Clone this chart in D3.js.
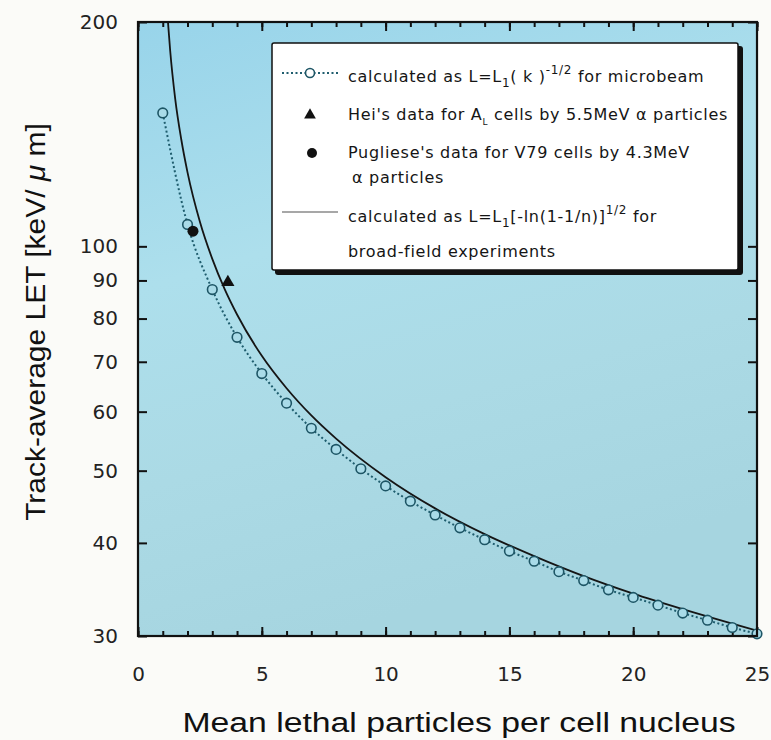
<!DOCTYPE html>
<html>
<head>
<meta charset="utf-8">
<script src="https://cdn.jsdelivr.net/npm/d3@7/dist/d3.min.js"></script>
<style>
  body { margin: 0; background: #fbfbf8; }
  svg { display: block; }
  .tick text { font-family: "DejaVu Sans", sans-serif; font-size: 20px; fill: #222; }
  .lg { font-family: "DejaVu Sans", sans-serif; font-size: 16px; letter-spacing: 0.7px; fill: #151515; }
</style>
</head>
<body>
<svg class="chart" width="771" height="740"></svg>
<script>
// microbeam: L = L1 (k)^-1/2
const microK = [1, 2, 3, 4, 5, 6, 7, 8, 9, 10, 11, 12, 13, 14, 15, 16, 17, 18, 19, 20, 21, 22, 23, 24, 25];
const microL = [151, 107, 87.5, 75.5, 67.5, 61.6, 57, 53.4, 50.3, 47.7, 45.5, 43.6, 41.9, 40.4, 39,
                37.8, 36.6, 35.6, 34.6, 33.8, 33, 32.2, 31.5, 30.8, 30.2];

// broad-field: solid curve, points read along it
const broadN = [1.2, 1.3, 1.5, 1.75, 2, 2.5, 3, 3.5, 4, 5, 6, 7, 8, 10, 12, 14, 16, 18, 20, 22, 25];
const broadL = [202, 183, 158, 139, 125.7, 107.9, 96.2, 87.6, 81, 71.3, 64.5, 59.3, 55.2, 49, 44.5,
                41.1, 38.4, 36.1, 34.2, 32.6, 30.5];

// Hei (triangle) and Pugliese (filled circle)
const heiX = [3.63], heiL = [89.5];
const pugX = [2.22], pugL = [104.8];

const xTicksMajor = [0, 5, 10, 15, 20, 25];
const xTicksMinor = d3.range(0, 26);
const yTicks = [30, 40, 50, 60, 70, 80, 90, 100, 200];

const mLeft = 138, mRight = 757, mTop = 22, mBottom = 636;

const x = d3.scaleLinear().domain([0, 25]).range([mLeft, mRight]);
const y = d3.scaleLog().domain([30, 200]).range([mBottom, mTop]);

const svg = d3.select(".chart");
const defs = svg.append("defs");

const grad = defs.append("linearGradient").attr("id", "bg")
  .attr("x1", 0).attr("y1", 0).attr("x2", 0.3).attr("y2", 1);
grad.append("stop").attr("offset", "0%").attr("stop-color", "#98d4ea");
grad.append("stop").attr("offset", "40%").attr("stop-color", "#addfec");
grad.append("stop").attr("offset", "70%").attr("stop-color", "#abdae5");
grad.append("stop").attr("offset", "100%").attr("stop-color", "#a6d5e0");

defs.append("clipPath").attr("id", "plot")
  .append("rect").attr("x", mLeft).attr("y", mTop)
  .attr("width", mRight - mLeft).attr("height", mBottom - mTop);

svg.append("rect")
  .attr("x", mLeft).attr("y", mTop)
  .attr("width", mRight - mLeft).attr("height", mBottom - mTop)
  .attr("fill", "url(#bg)");

// axes, ticks pointing inward
const fmtNone = () => "";
svg.append("g").attr("transform", `translate(0,${mBottom})`)
  .call(d3.axisBottom(x).tickValues(xTicksMinor).tickSize(-5).tickFormat(fmtNone));
svg.append("g").attr("transform", `translate(0,${mBottom})`)
  .call(d3.axisBottom(x).tickValues(xTicksMajor).tickSize(-9).tickPadding(31).tickFormat(d3.format("d")));
svg.append("g").attr("transform", `translate(0,${mTop})`)
  .call(d3.axisTop(x).tickValues(xTicksMinor).tickSize(-5).tickFormat(fmtNone));
svg.append("g").attr("transform", `translate(0,${mTop})`)
  .call(d3.axisTop(x).tickValues(xTicksMajor).tickSize(-9).tickFormat(fmtNone));
svg.append("g").attr("transform", `translate(${mLeft},0)`)
  .call(d3.axisLeft(y).tickValues(yTicks).tickSize(-9).tickPadding(20).tickFormat(d3.format("d")));
svg.append("g").attr("transform", `translate(${mRight},0)`)
  .call(d3.axisRight(y).tickValues(yTicks).tickSize(-9).tickFormat(fmtNone));

svg.selectAll(".domain").attr("stroke", "none");
svg.selectAll(".tick line").attr("stroke", "#111").attr("stroke-width", 2);

const plot = svg.append("g").attr("clip-path", "url(#plot)");

const broad = broadN.map((n, i) => ({ n, L: broadL[i] }));
const micro = microK.map((k, i) => ({ k, L: microL[i] }));

plot.append("path")
  .datum(broad)
  .attr("fill", "none")
  .attr("stroke", "#151515")
  .attr("stroke-width", 1.8)
  .attr("d", d3.line().x(d => x(d.n)).y(d => y(d.L)).curve(d3.curveMonotoneX));

plot.append("path")
  .datum(micro)
  .attr("fill", "none")
  .attr("stroke", "#1f5d6e")
  .attr("stroke-width", 2)
  .attr("stroke-dasharray", "2,2.5")
  .attr("d", d3.line().x(d => x(d.k)).y(d => y(d.L)).curve(d3.curveMonotoneX));

svg.selectAll(".micro")
  .data(micro)
  .enter()
  .append("circle")
  .attr("cx", d => x(d.k))
  .attr("cy", d => y(d.L))
  .attr("r", 4.8)
  .attr("fill", "#a9dbe8")
  .attr("stroke", "#1d5565")
  .attr("stroke-width", 1.6);

svg.selectAll(".pug")
  .data(pugX)
  .enter()
  .append("circle")
  .attr("cx", d => x(d))
  .attr("cy", (d, i) => y(pugL[i]))
  .attr("r", 5.5)
  .attr("fill", "#111");

svg.selectAll(".hei")
  .data(heiX)
  .enter()
  .append("path")
  .attr("transform", (d, i) => `translate(${x(d)},${y(heiL[i])})`)
  .attr("d", d3.symbol(d3.symbolTriangle, 75))
  .attr("fill", "#111");

// frame
svg.append("rect")
  .attr("x", mLeft).attr("y", mTop)
  .attr("width", mRight - mLeft).attr("height", mBottom - mTop)
  .attr("fill", "none").attr("stroke", "#111").attr("stroke-width", 2.2);

// legend
const lg = svg.append("g").attr("transform", "translate(272,43)");
lg.append("rect").attr("x", 3).attr("y", 3).attr("width", 468).attr("height", 229)
  .attr("rx", 3).attr("fill", "#111");
lg.append("rect").attr("x", 0).attr("y", 0).attr("width", 466).attr("height", 227)
  .attr("rx", 2).attr("fill", "#fff").attr("stroke", "#111").attr("stroke-width", 1.5);

lg.append("line").attr("x1", 10).attr("x2", 66).attr("y1", 30).attr("y2", 30)
  .attr("stroke", "#1f5d6e").attr("stroke-width", 2).attr("stroke-dasharray", "2,2.5");
lg.append("circle").attr("cx", 38).attr("cy", 30).attr("r", 4.5)
  .attr("fill", "#fff").attr("stroke", "#1d5565").attr("stroke-width", 1.6);
lg.append("path").attr("transform", "translate(38,72)")
  .attr("d", d3.symbol(d3.symbolTriangle, 60)).attr("fill", "#111");
lg.append("circle").attr("cx", 40).attr("cy", 110).attr("r", 5).attr("fill", "#111");
lg.append("line").attr("x1", 10).attr("x2", 66).attr("y1", 169).attr("y2", 169)
  .attr("stroke", "#8a8a8a").attr("stroke-width", 1.5);

const tx = 76;
let t = lg.append("text").attr("class", "lg").attr("x", tx).attr("y", 39);
t.append("tspan").text("calculated as L=L");
t.append("tspan").attr("dy", 5).attr("font-size", 12).text("1");
t.append("tspan").attr("dy", -5).text("( k )");
t.append("tspan").attr("dy", -8).attr("font-size", 12).text("-1/2");
t.append("tspan").attr("dy", 8).text("  for microbeam");

t = lg.append("text").attr("class", "lg").attr("x", tx).attr("y", 77);
t.append("tspan").text("Hei's data for A");
t.append("tspan").attr("dy", 5).attr("font-size", 9).text("L");
t.append("tspan").attr("dy", -5).text("  cells by 5.5MeV  α  particles");

lg.append("text").attr("class", "lg").attr("x", tx).attr("y", 115)
  .text("Pugliese's data for V79 cells by 4.3MeV");
lg.append("text").attr("class", "lg").attr("x", tx + 4).attr("y", 140)
  .text("α  particles");

t = lg.append("text").attr("class", "lg").attr("x", tx).attr("y", 179);
t.append("tspan").text("calculated as L=L");
t.append("tspan").attr("dy", 5).attr("font-size", 12).text("1");
t.append("tspan").attr("dy", -5).text("[-ln(1-1/n)]");
t.append("tspan").attr("dy", -8).attr("font-size", 12).text("1/2");
t.append("tspan").attr("dy", 8).text("  for");

lg.append("text").attr("class", "lg").attr("x", tx).attr("y", 214)
  .text("broad-field   experiments");

// axis titles
svg.append("text")
  .attr("transform", "translate(459,732) scale(1.25,1)")
  .attr("text-anchor", "middle")
  .attr("font-family", "Liberation Sans, sans-serif")
  .attr("font-size", 27)
  .attr("fill", "#111")
  .text("Mean lethal particles per cell nucleus");

const yt = svg.append("text")
  .attr("transform", "translate(45,322) rotate(-90) scale(1.11,1)")
  .attr("text-anchor", "middle")
  .attr("font-family", "Liberation Sans, sans-serif")
  .attr("font-size", 27)
  .attr("fill", "#111");
yt.append("tspan").text("Track-average LET [keV/");
yt.append("tspan").attr("font-style", "italic").text(" μ ");
yt.append("tspan").text("m]");
</script>
</body>
</html>
